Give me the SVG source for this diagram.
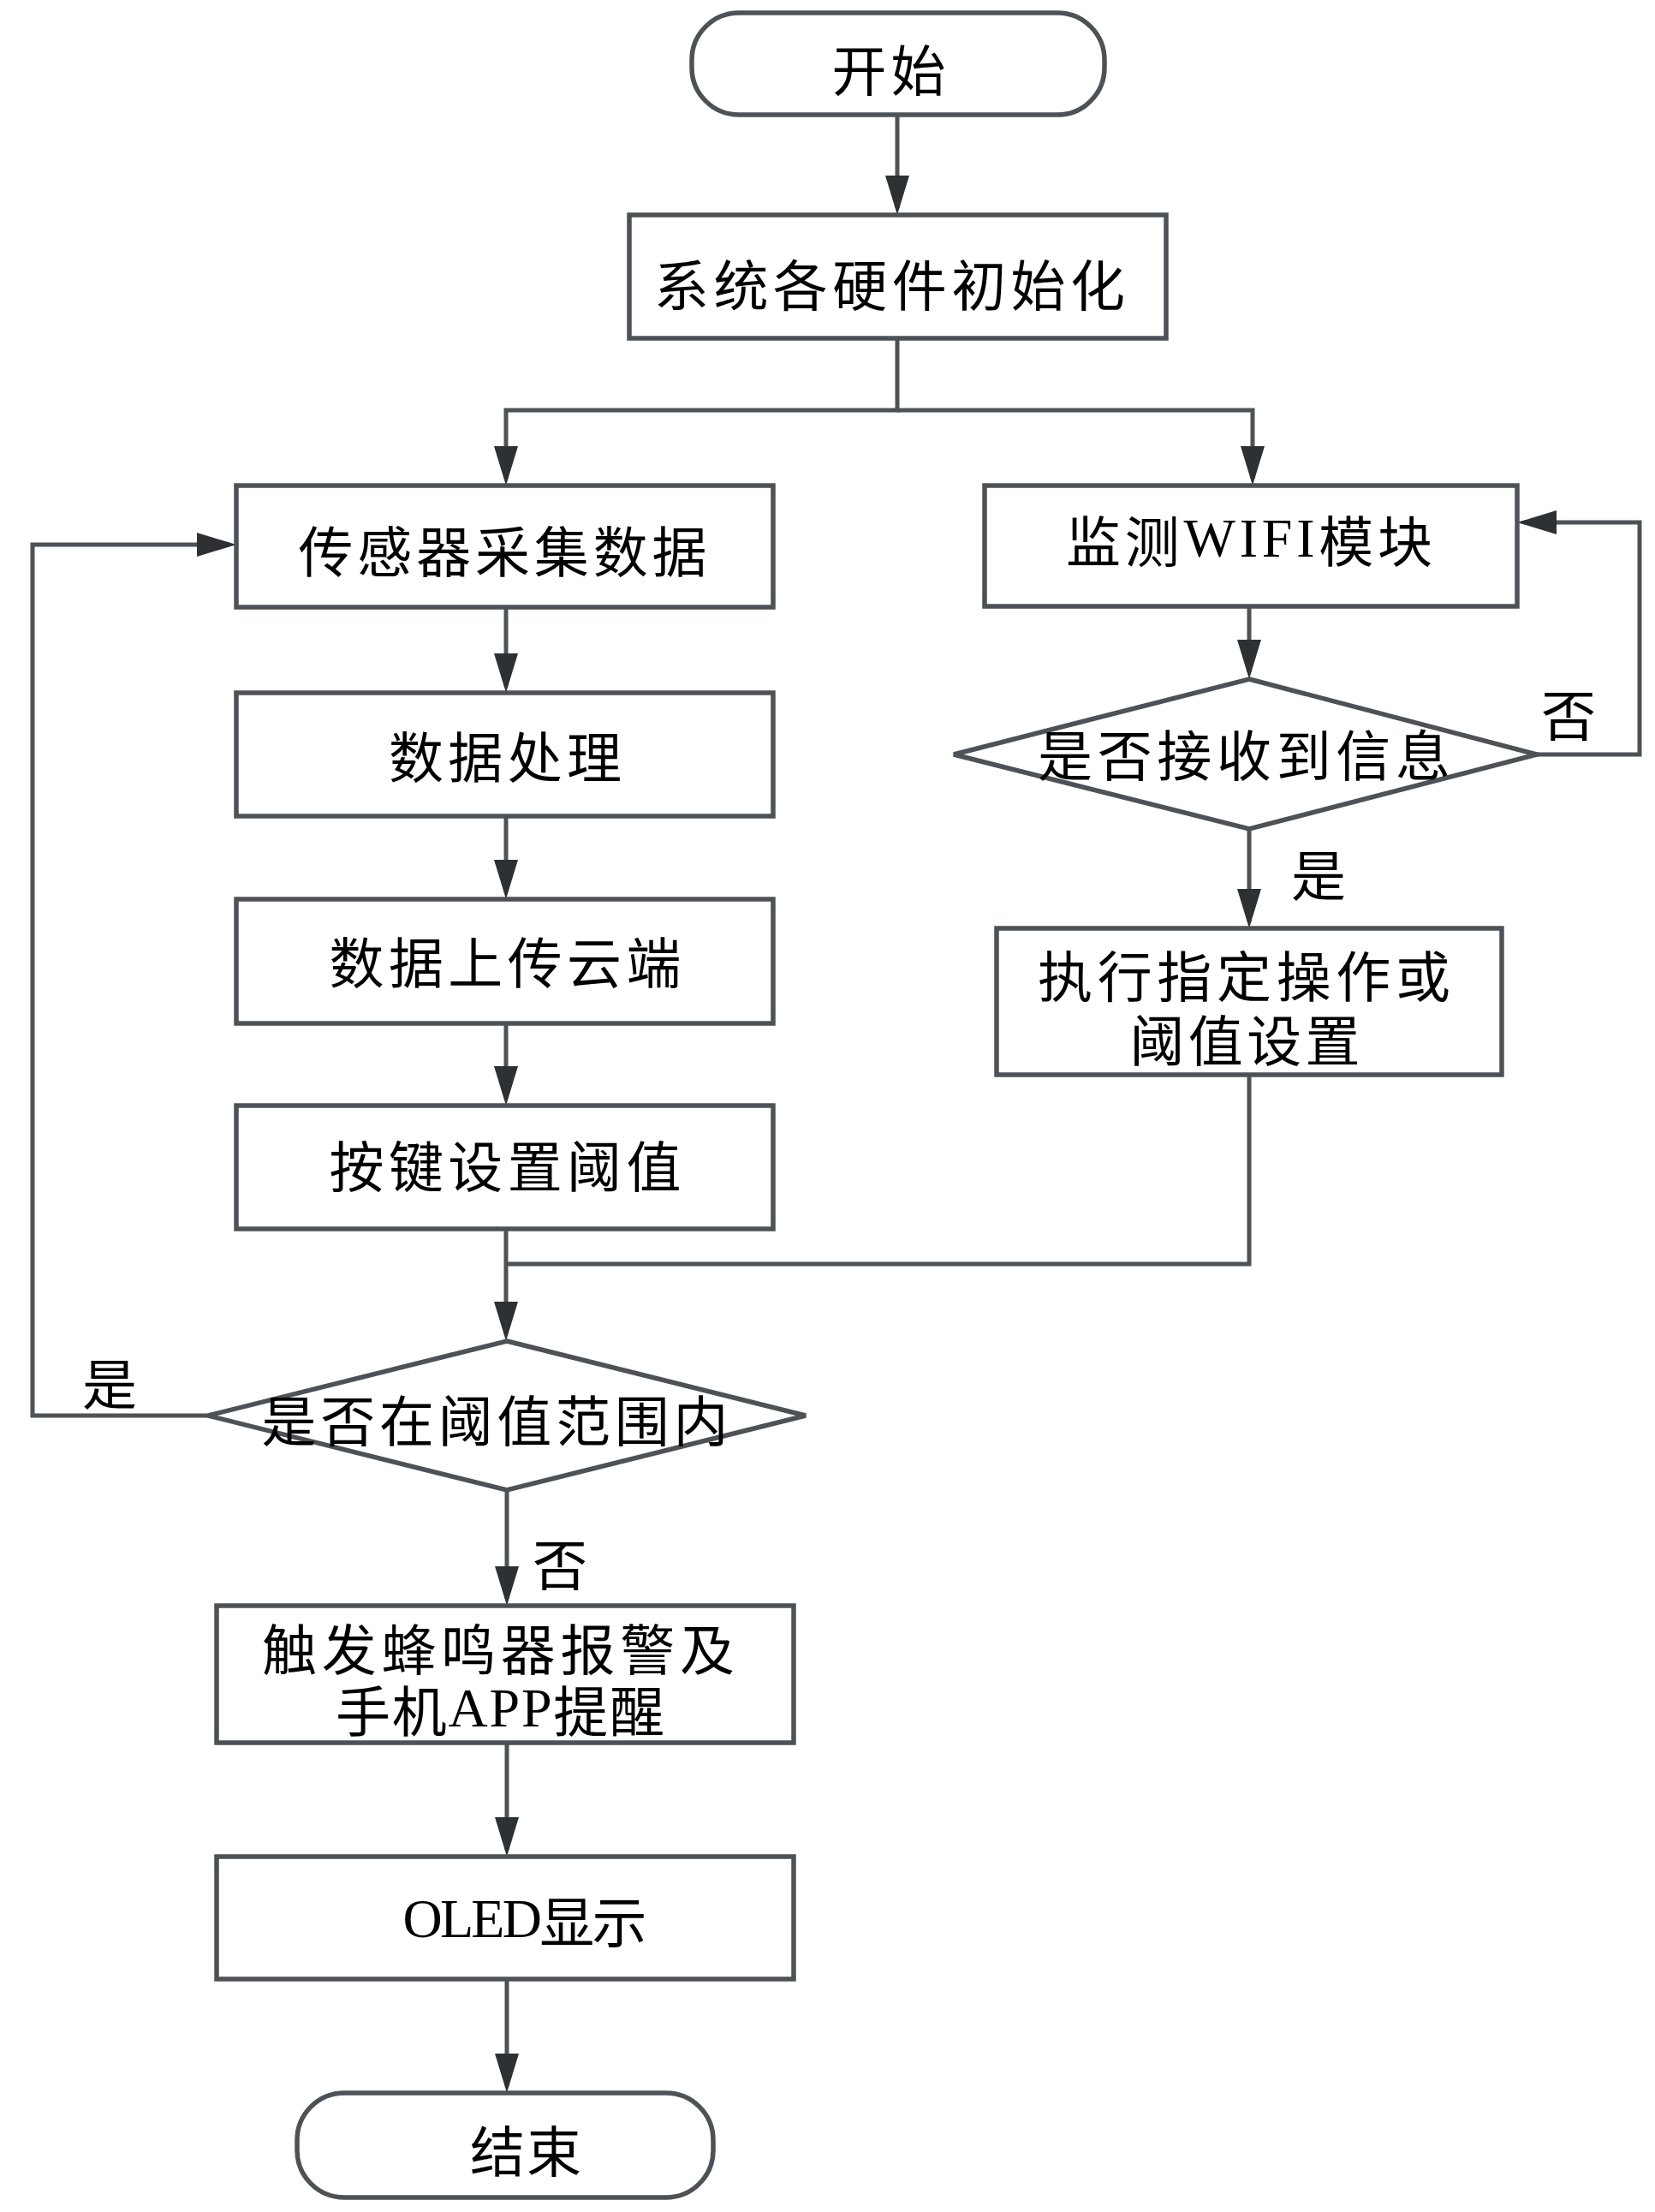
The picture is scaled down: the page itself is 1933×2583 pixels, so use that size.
<svg xmlns="http://www.w3.org/2000/svg" width="1933" height="2583" viewBox="0 0 1933 2583">
<style>
.n{fill:#ffffff;stroke:#4d5257;stroke-width:5.5}
.c{fill:none;stroke:#4d5257;stroke-width:5}
.t{font-family:"Noto Sans CJK SC","Noto Sans CJK TC",sans-serif;font-size:64px;fill:#000;text-anchor:middle;dominant-baseline:central}
.l{font-family:"Liberation Serif","Noto Sans CJK SC",serif}
</style>
<defs>
<marker id="ah" viewBox="0 0 46 28" refX="38" refY="14" markerWidth="46" markerHeight="28" markerUnits="userSpaceOnUse" orient="auto">
<path d="M0,0 L46,14 L0,28 z" fill="#2e3134"/>
</marker>
</defs>
<rect width="1933" height="2583" fill="#ffffff"/>

<g id="connectors">
<path class="c" d="M1048,134 V243" marker-end="url(#ah)"/>
<path class="c" d="M1048,395 V479 H591 V559" marker-end="url(#ah)"/>
<path class="c" d="M1048,479 H1463 V559" marker-end="url(#ah)"/>
<path class="c" d="M591,709 V801" marker-end="url(#ah)"/>
<path class="c" d="M591,953 V1042" marker-end="url(#ah)"/>
<path class="c" d="M591,1195 V1283" marker-end="url(#ah)"/>
<path class="c" d="M591,1435 V1558" marker-end="url(#ah)"/>
<path class="c" d="M1459,1255 V1476 H591"/>
<path class="c" d="M1459,708 V785" marker-end="url(#ah)"/>
<path class="c" d="M1459,968 V1076" marker-end="url(#ah)"/>
<path class="c" d="M1795,881 H1915 V610 H1780" marker-end="url(#ah)"/>
<path class="c" d="M243,1653 H38 V636 H268" marker-end="url(#ah)"/>
<path class="c" d="M592,1740 V1867" marker-end="url(#ah)"/>
<path class="c" d="M592,2035 V2160" marker-end="url(#ah)"/>
<path class="c" d="M592,2311 V2436" marker-end="url(#ah)"/>
<text class="t" x="1832" y="831" font-size="60">否</text>
<text class="t" x="1540" y="1018" font-size="60">是</text>
<text class="t" x="128" y="1612" font-size="60">是</text>
<text class="t" x="654" y="1823" font-size="60">否</text>
</g>

<g id="start">
<rect class="n" x="808" y="15" width="482" height="119" rx="55" ry="55"/>
<text class="t" x="1038" y="78" textLength="133" lengthAdjust="spacing">开始</text>
</g>

<g id="init">
<rect class="n" x="735" y="251" width="627" height="144"/>
<text class="t" x="1039" y="329" font-size="66" textLength="550" lengthAdjust="spacing">系统各硬件初始化</text>
</g>

<g id="sensor">
<rect class="n" x="276" y="567" width="627" height="142"/>
<text class="t" x="587" y="640" textLength="477" lengthAdjust="spacing">传感器采集数据</text>
</g>

<g id="wifi">
<rect class="n" x="1150" y="567" width="622" height="141"/>
<text class="t" x="1459" y="628" textLength="428" lengthAdjust="spacing">监测<tspan class="l">WIFI</tspan>模块</text>
</g>

<g id="process">
<rect class="n" x="276" y="809" width="627" height="144"/>
<text class="t" x="590" y="880" textLength="272" lengthAdjust="spacing">数据处理</text>
</g>

<g id="upload">
<rect class="n" x="276" y="1050" width="627" height="145"/>
<text class="t" x="590" y="1120" textLength="411" lengthAdjust="spacing">数据上传云端</text>
</g>

<g id="keyset">
<rect class="n" x="276" y="1291" width="627" height="144"/>
<text class="t" x="590" y="1358" textLength="411" lengthAdjust="spacing">按键设置阈值</text>
</g>

<g id="recv">
<polygon class="n" points="1459,793 1795,881 1459,968 1114,881"/>
<text class="t" x="1453" y="878" textLength="482" lengthAdjust="spacing">是否接收到信息</text>
</g>

<g id="exec">
<rect class="n" x="1164" y="1084" width="590" height="171"/>
<text class="t" x="1453" y="1136" textLength="482" lengthAdjust="spacing">执行指定操作或</text>
<text class="t" x="1454" y="1211" textLength="269" lengthAdjust="spacing">阈值设置</text>
</g>

<g id="range">
<polygon class="n" points="592,1566 941,1653 592,1740 243,1653"/>
<text class="t" x="578" y="1655" textLength="545" lengthAdjust="spacing">是否在阈值范围内</text>
</g>

<g id="alarm">
<rect class="n" x="253" y="1875" width="674" height="160"/>
<text class="t" x="582" y="1922" textLength="552" lengthAdjust="spacing">触发蜂鸣器报警及</text>
<text class="t" x="584" y="1994" textLength="384" lengthAdjust="spacing">手机<tspan class="l">APP</tspan>提醒</text>
</g>

<g id="oled">
<rect class="n" x="253" y="2168" width="674" height="143"/>
<text class="t" x="613" y="2240" textLength="285" lengthAdjust="spacing"><tspan class="l">OLED</tspan>显示</text>
</g>

<g id="end">
<rect class="n" x="347" y="2444" width="486" height="122" rx="55" ry="55"/>
<text class="t" x="614" y="2508" textLength="130" lengthAdjust="spacing">结束</text>
</g>
</svg>
